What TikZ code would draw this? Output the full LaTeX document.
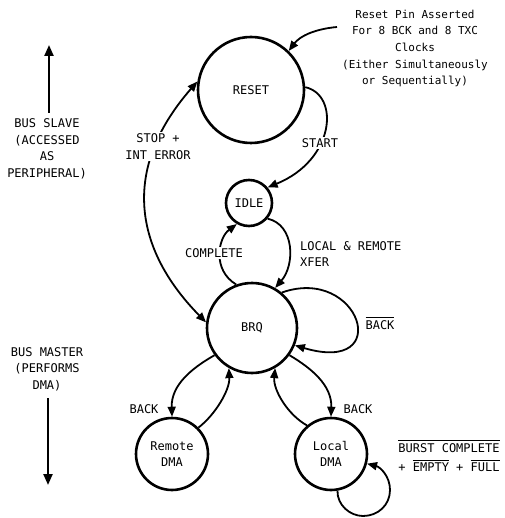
\documentclass[tikz,border=0pt]{standalone}
\usepackage{fontspec}
\setmainfont{DejaVu Sans Mono}
\usetikzlibrary{arrows.meta}
\newcommand\myovl[1]{\vbox{\hrule height 0.9pt\kern2.2pt\hbox{#1}}}
\begin{document}
\begin{tikzpicture}[x=1pt,y=-1pt,
  state/.style={circle,draw,line width=2.6pt,inner sep=0pt,align=center},
  conn/.style={line width=1.8pt,-{Triangle[length=10pt,width=8pt]}},
  dconn/.style={line width=1.8pt,{Triangle[length=10pt,width=8pt]}-{Triangle[length=10pt,width=8pt]}},
  busarrow/.style={line width=2.2pt,-{Triangle[length=11pt,width=9pt]}},
  lbl/.style={fill=white,inner sep=1.5pt,align=center},
  txt/.style={inner sep=0pt,align=center},
  font=\fontsize{12}{16.5}\selectfont]
\useasboundingbox (0,0) rectangle (504,518);

% states
\node[state,minimum size=106pt] (reset) at (251,90) {RESET};
\node[state,minimum size=46pt] (idle) at (249,203) {IDLE};
\node[state,minimum size=90pt] (brq) at (252,328) {BRQ};
\node[state,minimum size=72pt] (remote) at (172,454) {Remote\\DMA};
\node[state,minimum size=72pt] (local) at (331,454) {Local\\DMA};

% side arrows
\coordinate (s1) at (49,113); \coordinate (s2) at (49,45);
\draw[busarrow] (s1) -- (s2);
\coordinate (m1) at (48,398); \coordinate (m2) at (48,485);
\draw[busarrow] (m1) -- (m2);

% reset pin
\coordinate (pin) at (337,27);
\draw[conn] (pin) .. controls (315,29) and (300,36) .. (reset.46);

% transitions
\draw[conn] (reset.3) .. controls (340,95) and (335,160) .. (idle.40);
\draw[dconn] (brq.173) .. controls (135,250) and (120,170) .. (reset.171);
\draw[conn] (idle.-40) .. controls (295,225) and (295,265) .. (brq.60);
\draw[conn] (brq.110) .. controls (212,270) and (218,238) .. (idle.-120);
\draw[conn] (brq.50) .. controls (360,265) and (395,375) .. (brq.-22);
\draw[conn] (brq.-144) .. controls (192,368) and (171,385) .. (remote.90);
\draw[conn] (remote.45) .. controls (215,415) and (230,390) .. (brq.-120);
\draw[conn] (local.130) .. controls (288,415) and (273,390) .. (brq.-60);
\draw[conn] (brq.-36) .. controls (311,368) and (332,385) .. (local.90);
\draw[conn] (local.-80) .. controls (337,505) and (350,516) .. (363,516)
  .. controls (378,516) and (390,505) .. (390,490)
  .. controls (390,476) and (380,467) .. (local.-15);

% labels
\node[txt] (slave) at (47,149) {BUS SLAVE\\(ACCESSED\\AS\\PERIPHERAL)};
\node[txt] (master) at (47,369) {BUS MASTER\\(PERFORMS\\DMA)};
\node[txt,font=\fontsize{11}{16.7}\selectfont] (pintext) at (415,48.5)
  {Reset Pin Asserted\\For 8 BCK and 8 TXC\\Clocks\\(Either Simultaneously\\or Sequentially)};
\node[lbl] (stoplbl) at (158,146.5) {STOP +\\INT ERROR};
\node[lbl] (startlbl) at (320,143) {START};
\node[lbl] (complbl) at (214,253) {COMPLETE};
\node[txt,anchor=west,align=left] (xferlbl) at (300,254) {LOCAL \& REMOTE\\XFER};
\node[txt] (nbacklbl) at (380,323.5) {\myovl{BACK}};
\node[txt] (backl) at (144,409) {BACK};
\node[txt] (backr) at (358,409) {BACK};
\node[txt,font=\fontsize{12}{19}\selectfont] (burstlbl) at (449,456)
  {\myovl{BURST COMPLETE}\\+ \myovl{EMPTY} + \myovl{FULL}};
\end{tikzpicture}
\end{document}
